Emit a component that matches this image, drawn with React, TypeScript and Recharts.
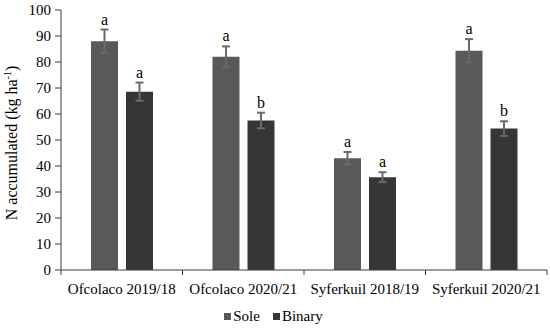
import { Bar, BarChart, ErrorBar, LabelList, Legend, XAxis, YAxis } from 'recharts';

const sites = ['Ofcolaco 2019/18', 'Ofcolaco 2020/21', 'Syferkuil 2018/19', 'Syferkuil 2020/21'];
const sole = [88, 82, 43, 84.3];
const soleErr = [4.5, 4, 2.4, 4.5];
const soleLetters = ['a', 'a', 'a', 'a'];
const binary = [68.6, 57.5, 35.7, 54.4];
const binaryErr = [3.5, 3, 1.9, 2.8];
const binaryLetters = ['a', 'b', 'a', 'b'];
const yTicks = [0, 10, 20, 30, 40, 50, 60, 70, 80, 90, 100];

const rows = sites.map((site, i) => ({
  site,
  sole: sole[i],
  soleErr: soleErr[i],
  binary: binary[i],
  binaryErr: binaryErr[i],
}));

const FONT = "'Liberation Serif', 'Times New Roman', serif";
const AXIS = '#3a3a3a';
const SOLE_FILL = '#595959';
const BINARY_FILL = '#363636';

// letter sits just above the error-bar cap
function letterLabel(errs: number[], letters: string[]) {
  return (props: any) => {
    const { x, y, width, height, value, index } = props;
    const perUnit = height / value;
    const top = y - errs[index] * perUnit;
    return (
      <text x={x + width / 2} y={top - 5} textAnchor="middle" style={{ fontFamily: FONT }} fontSize={16} fill="#000">
        {letters[index]}
      </text>
    );
  };
}

const PLOT_LEFT = 61;
const PLOT_RIGHT = 547;

function SiteTick(props: any) {
  const { x, y, payload, index } = props;
  const band = (PLOT_RIGHT - PLOT_LEFT) / sites.length;
  const axisY = y - 8;
  return (
    <g>
      <line x1={x - band / 2} x2={x - band / 2} y1={axisY} y2={axisY + 5} stroke={AXIS} />
      {index === sites.length - 1 && (
        <line x1={x + band / 2} x2={x + band / 2} y1={axisY} y2={axisY + 5} stroke={AXIS} />
      )}
      <text x={x} y={axisY + 24} textAnchor="middle" style={{ fontFamily: FONT }} fontSize={15} fill="#000">
        {payload.value}
      </text>
    </g>
  );
}

function YTick(props: any) {
  const { x, y, payload } = props;
  return (
    <text x={x} y={y + 5} textAnchor="end" style={{ fontFamily: FONT }} fontSize={15} fill="#000">
      {payload.value}
    </text>
  );
}

function LegendBox() {
  const items = [
    { name: 'Sole', color: SOLE_FILL },
    { name: 'Binary', color: BINARY_FILL },
  ];
  return (
    <div style={{ display: 'flex', justifyContent: 'center', gap: 13, fontFamily: FONT, fontSize: 15, color: '#000', lineHeight: '16px' }}>
      {items.map((it) => (
        <div key={it.name} style={{ display: 'flex', alignItems: 'center' }}>
          <span style={{ display: 'inline-block', width: 7, height: 7, background: it.color, marginRight: 2 }} />
          {it.name}
        </div>
      ))}
    </div>
  );
}

export default function App() {
  return (
    <div style={{ position: 'absolute', left: 0, top: 0, width: 550, height: 328, background: '#fff' }}>
      <BarChart
        width={550}
        height={328}
        data={rows}
        margin={{ top: 10, right: 3, bottom: 0, left: 0 }}
        barCategoryGap="24.5%"
        barGap={8}
      >
        <YAxis
          width={61}
          domain={[0, 100]}
          ticks={yTicks}
          interval={0}
          stroke={AXIS}
          tickSize={6}
          tickMargin={4}
          tick={<YTick />}
          label={{
            content: () => (
              <text transform="translate(17,143) rotate(-90)" textAnchor="middle" style={{ fontFamily: FONT }} fontSize={16} fill="#000">
                N accumulated (kg ha
                <tspan dy={-6} fontSize={10}>-1</tspan>
                <tspan dy={6}>)</tspan>
              </text>
            ),
          }}
        />
        <XAxis dataKey="site" stroke={AXIS} tickLine={false} height={38} tick={<SiteTick />} interval={0} />
        <Legend verticalAlign="bottom" height={20} content={<LegendBox />} />
        <Bar dataKey="sole" name="Sole" fill={SOLE_FILL} barSize={27} isAnimationActive={false}>
          <ErrorBar dataKey="soleErr" width={4} stroke="#6a6a6a" strokeWidth={2} direction="y" />
          <LabelList dataKey="sole" content={letterLabel(soleErr, soleLetters)} />
        </Bar>
        <Bar dataKey="binary" name="Binary" fill={BINARY_FILL} barSize={27} isAnimationActive={false}>
          <ErrorBar dataKey="binaryErr" width={4} stroke="#6a6a6a" strokeWidth={2} direction="y" />
          <LabelList dataKey="binary" content={letterLabel(binaryErr, binaryLetters)} />
        </Bar>
      </BarChart>
    </div>
  );
}
